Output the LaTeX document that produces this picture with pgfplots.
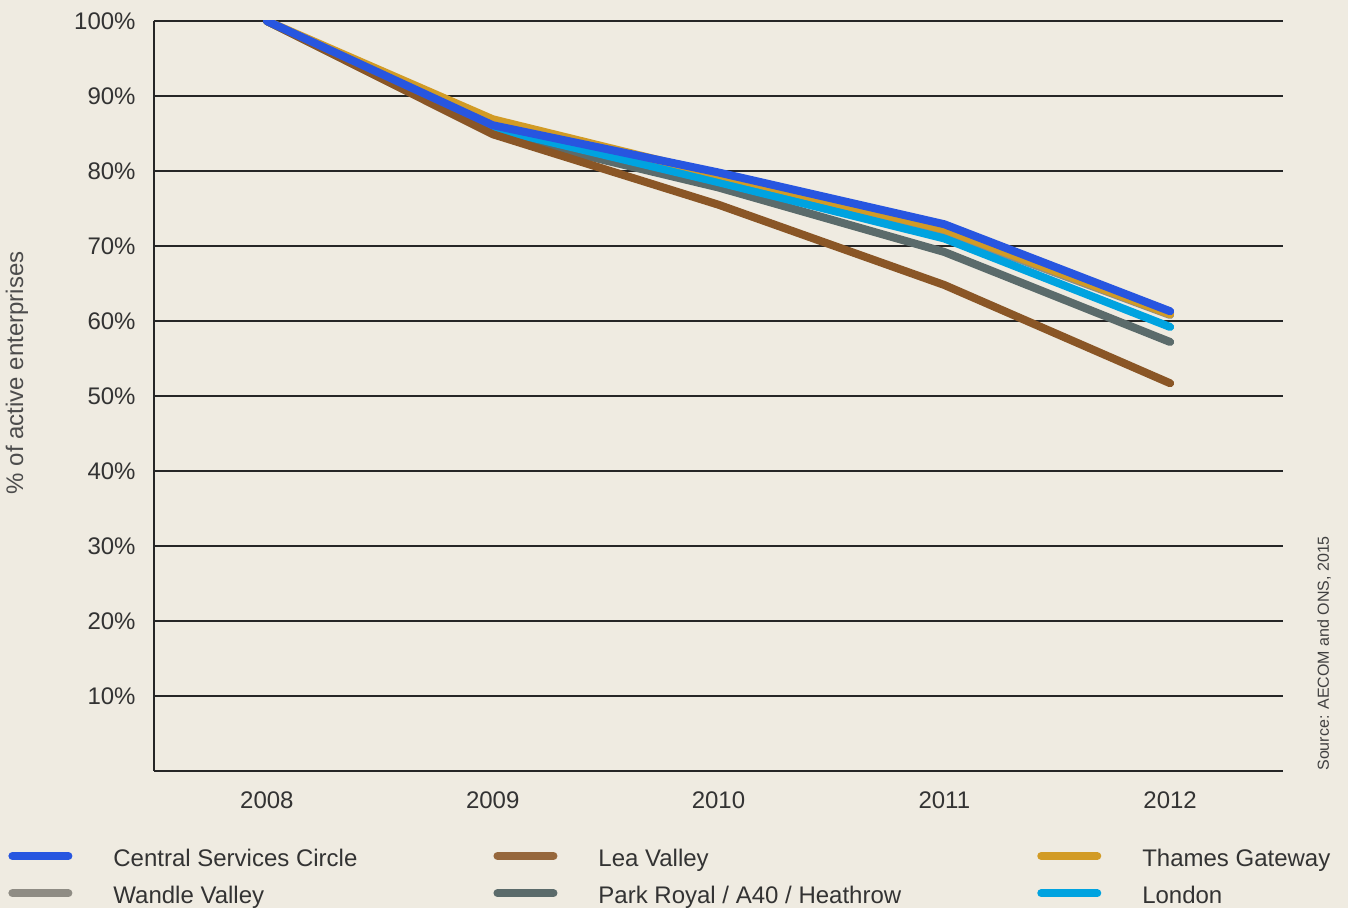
\documentclass[border=0pt]{standalone}
\usepackage{fontspec}
\setmainfont{Liberation Sans}
\usepackage{pgfplots}
\pgfplotsset{compat=1.18}

\definecolor{bg}{RGB}{239,235,225}
\definecolor{csc}{RGB}{39,86,224}
\definecolor{lea}{RGB}{138,86,38}
\definecolor{thames}{RGB}{210,155,37}
\definecolor{wandle}{RGB}{143,140,132}
\definecolor{park}{RGB}{91,107,107}
\definecolor{london}{RGB}{0,163,224}
\definecolor{txt}{RGB}{51,51,51}

\begin{document}
\begin{tikzpicture}
\fill[bg] (-77pt,-68.5pt) rectangle (597pt,385.5pt);
\path[use as bounding box] (-77pt,-68.5pt) rectangle (597pt,385.5pt);
\begin{axis}[
    name=ax,
    at={(0,0)}, anchor=south west,
    scale only axis,
    width=564.5pt, height=375pt,
    xmin=2007.5, xmax=2012.5,
    ymin=0, ymax=100,
    xtick={2008,2009,2010,2011,2012},
    ytick={10,20,...,100},
    /pgf/number format/assume math mode=true,
    xticklabel style={/pgf/number format/1000 sep={}, inner sep=0pt, yshift=-10pt, text=txt},
    yticklabel={\pgfmathprintnumber{\tick}\%},
    yticklabel style={inner sep=0pt, xshift=-9pt, text=txt},
    major tick length=0pt,
    axis x line*=bottom, axis y line*=left,
    axis line style={-, draw=black!85, line width=0.75pt},
    ymajorgrids, grid style={draw=black!85, line width=0.75pt},
    font=\fontsize{12}{14}\selectfont,
    ylabel={\% of active enterprises},
    ylabel style={at={(axis description cs:-0.1213,0.531)}, anchor=center, text=black!70},
    every axis plot/.append style={line width=4pt, line cap=round, line join=round},
    legend columns=3,
    legend image code/.code={\draw[#1, line width=4pt, line cap=round] (2pt,2pt) -- (30pt,2pt);},
    legend style={at={(0,0)}, anchor=north west, xshift=-73pt, yshift=-39pt,
        draw=none, fill=none, inner sep=0pt, row sep=8pt,
        nodes={inner sep=0pt, text=txt, text height=8.6pt, text depth=2pt},
        cells={anchor=west},
        /tikz/every odd column/.append style={column sep=20.5pt},
        /tikz/every even column/.append style={column sep=68pt}},
]
\addplot[wandle, forget plot] coordinates {(2008,100)(2009,85.5)(2010,79.2)(2011,71.9)(2012,60.8)};
\addplot[park, forget plot] coordinates {(2008,100)(2009,85.0)(2010,77.8)(2011,69.2)(2012,57.2)};
\addplot[london, forget plot] coordinates {(2008,100)(2009,85.7)(2010,78.5)(2011,71.0)(2012,59.2)};
\addplot[thames, forget plot] coordinates {(2008,100)(2009,86.9)(2010,79.5)(2011,72.2)(2012,60.9)};
\addplot[lea, forget plot] coordinates {(2008,100)(2009,84.9)(2010,75.5)(2011,64.8)(2012,51.7)};
\addplot[csc, forget plot] coordinates {(2008,100)(2009,86.1)(2010,79.8)(2011,72.9)(2012,61.3)};

\addlegendimage{csc}\addlegendentry{Central Services Circle}
\addlegendimage{lea!90!white}\addlegendentry{Lea Valley}
\addlegendimage{thames}\addlegendentry{Thames Gateway}
\addlegendimage{wandle}\addlegendentry{Wandle Valley}
\addlegendimage{park}\addlegendentry{Park Royal / A40 / Heathrow}
\addlegendimage{london}\addlegendentry{London}
\end{axis}
\node[rotate=90, anchor=west, inner sep=0pt, font=\fontsize{8}{9}\selectfont, text=black!75]
    at ([xshift=20.5pt]ax.south east) {Source: AECOM and ONS, 2015};
\end{tikzpicture}
\end{document}
